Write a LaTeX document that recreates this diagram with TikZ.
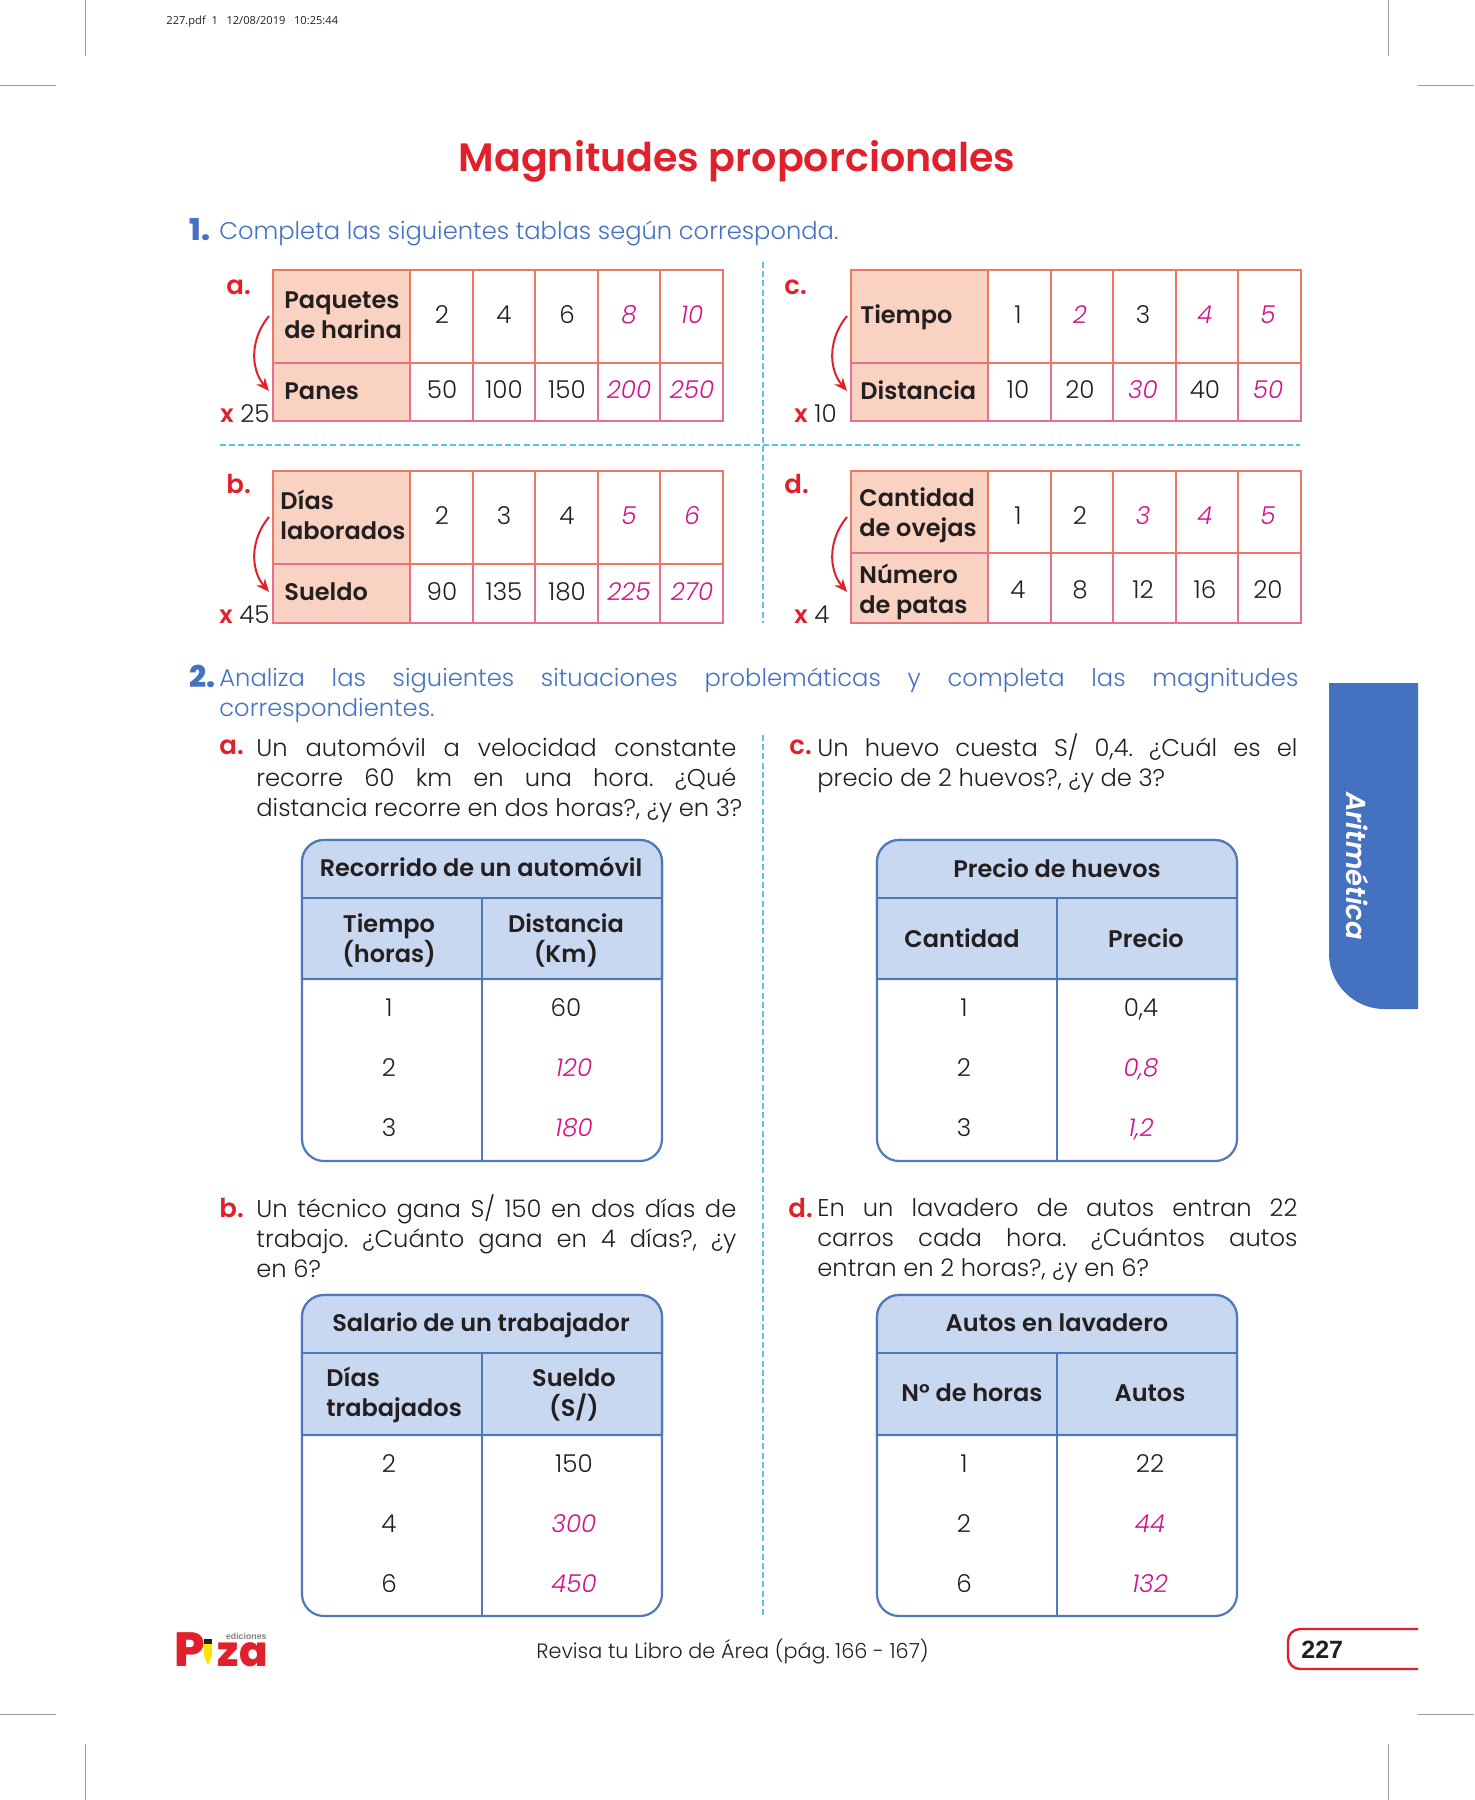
\documentclass[tikz,border=0pt]{standalone}
\usepackage{fontspec}
\setmainfont{Poppins Light}[BoldFont=Poppins SemiBold,ItalicFont=Poppins Light Italic]
\newfontfamily\recorte{Open Sans}
\newfontfamily\arial{Liberation Sans}
\newfontfamily\logof{Poppins ExtraBold}
\usetikzlibrary{arrows.meta}
\frenchspacing
\definecolor{rojo}{HTML}{E2202C}
\definecolor{azul}{HTML}{4472C0}
\definecolor{borde}{HTML}{4F79B9}
\definecolor{celeste}{HTML}{C9D8F1}
\definecolor{salmon}{HTML}{F9D2C2}
\definecolor{naranja}{HTML}{EC7860}
\definecolor{rosa}{HTML}{E7708A}
\definecolor{magenta}{HTML}{D4108A}
\definecolor{tinta}{HTML}{231F20}
\definecolor{corte}{HTML}{9A9A9A}
\definecolor{guia}{HTML}{5CC3E6}
\tikzset{
	val/.style={inner sep=0pt,text=tinta,text height=8.6pt,text depth=0pt,font=\fontsize{12.3}{15}\selectfont},
	res/.style={val,text=magenta,font=\fontsize{12.3}{15}\selectfont\itshape},
	head/.style={inner sep=0pt,text=tinta,align=center,font=\fontsize{12}{15}\selectfont\bfseries},
	headl/.style={head,align=left,anchor=west},
	body/.style={inner sep=0pt,anchor=north west,align=left,text=tinta,font=\fontsize{12.1}{15}\selectfont},
	letra/.style={inner sep=0pt,anchor=west,text=rojo,font=\fontsize{13}{15}\selectfont\bfseries},
	flecha/.style={rojo,line width=1pt,-{Stealth[length=6.5pt,width=5.5pt]}},
	guion/.style={guia,line width=0.7pt,dash pattern=on 3pt off 1.6pt},
	marca/.style={corte,line width=0.5pt}
}
% una linea justificada
\newcommand{\lin}[2]{\makebox[#1][s]{#2}}
% tabla chica: desplazamiento x, y arriba, y medio, y abajo
\newcommand{\grilla}[4]{
	\begin{scope}[shift={(#1,0)},line width=1.05pt]
		\draw[naranja,fill=salmon] (273,#2) rectangle (410,#3);
		\draw[rosa,fill=salmon] (273,#3) rectangle (410,#4);
		\foreach \xa/\xb in {410/473,473/535,535/598,598/660,660/723}{
			\draw[rosa] (\xa,#3) rectangle (\xb,#4);
			\draw[naranja] (\xa,#2) rectangle (\xb,#3);
		}
	\end{scope}
}
% tabla grande: x izq, x medio, x der, y arriba, y1, y2, y abajo
\newcommand{\tablon}[7]{
	\draw[borde,fill=white,line width=1.1pt,rounded corners=11pt] (#1,#4) rectangle (#3,#7);
	\draw[borde,fill=celeste,line width=1.1pt] (#1,#6) [rounded corners=11pt] -- (#1,#4) -- (#3,#4) [sharp corners] -- (#3,#6) -- cycle;
	\draw[borde,line width=1.1pt] (#1,#5) -- (#3,#5) (#2,#5) -- (#2,#7);
}
\begin{document}
\begin{tikzpicture}[x=0.5pt,y=-0.5pt]
	\useasboundingbox (0,0) rectangle (1474,1800);
	% marcas de corte
	\draw[marca] (85,0) -- (85,56) (0,85) -- (56,85);
	\draw[marca] (1388,0) -- (1388,56) (1418,85) -- (1474,85);
	\draw[marca] (0,1714) -- (56,1714) (85,1744) -- (85,1800);
	\draw[marca] (1418,1714) -- (1474,1714) (1388,1744) -- (1388,1800);
	\node[inner sep=0pt,anchor=west,text=tinta,font=\fontsize{5.55}{6}\recorte] (pdf) at (166,22) {227.pdf\ \ 1\ \ \ 12/08/2019\ \ \ 10:25:44};
	\node[inner sep=0pt,text=rojo,font=\fontsize{19.8}{22}\selectfont\bfseries] (titulo) at (737,161) {Magnitudes proporcionales};
	% pregunta 1
	\node[inner sep=0pt,anchor=west,text=azul,font=\fontsize{15}{15}\logof] (uno) at (189,230) {1.};
	\node[inner sep=0pt,anchor=west,text=azul,font=\fontsize{12.1}{15}\selectfont] (enun1) at (219,233) {Completa las siguientes tablas según corresponda.};
	\draw[guion] (763,262) -- (763,623);
	\draw[guion] (220,445) -- (1300,445);
	% tablas chicas
	\grilla{0}{270}{363}{421}
	\grilla{0}{471}{564}{623}
	\grilla{578}{270}{363}{421}
	\grilla{578}{471}{553}{623}
	\node[letra] (la) at (226,287) {a.};
	\node[letra] (lb) at (226,484) {b.};
	\node[letra] (lc) at (784,287) {c.};
	\node[letra] (ld) at (784,484) {d.};
	\node[headl] (paq) at (284,315) {Paquetes\\de harina};
	\node[headl] (pan) at (284,391) {Panes};
	\node[headl] (dias) at (280,515) {Días\\laborados};
	\node[headl] (sue) at (284,592) {Sueldo};
	\node[headl] (tie) at (860,317) {Tiempo};
	\node[headl] (dis) at (860,390) {Distancia};
	\node[headl] (can) at (859,515) {Cantidad\\de ovejas};
	\node[headl] (num) at (859,592) {Número\\de patas};
	\foreach \x/\v/\s in {442/2/val,504/4/val,567/6/val,629/8/res,692/10/res}
		\node[\s] (a1\x) at (\x,315) {\v};
	\foreach \x/\v/\s in {442/50/val,504/100/val,567/150/val,629/200/res,692/250/res}
		\node[\s] (a2\x) at (\x,390) {\v};
	\foreach \x/\v/\s in {442/2/val,504/3/val,567/4/val,629/5/res,692/6/res}
		\node[\s] (b1\x) at (\x,516) {\v};
	\foreach \x/\v/\s in {442/90/val,504/135/val,567/180/val,629/225/res,692/270/res}
		\node[\s] (b2\x) at (\x,592) {\v};
	\foreach \x/\v/\s in {1018/1/val,1080/2/res,1143/3/val,1205/4/res,1268/5/res}
		\node[\s] (c1\x) at (\x,315) {\v};
	\foreach \x/\v/\s in {1018/10/val,1080/20/val,1143/30/res,1205/40/val,1268/50/res}
		\node[\s] (c2\x) at (\x,390) {\v};
	\foreach \x/\v/\s in {1018/1/val,1080/2/val,1143/3/res,1205/4/res,1268/5/res}
		\node[\s] (d1\x) at (\x,516) {\v};
	\foreach \x/\v/\s in {1018/4/val,1080/8/val,1143/12/val,1205/16/val,1268/20/val}
		\node[\s] (d2\x) at (\x,590) {\v};
	% flechas
	\coordinate (fa1) at (269,316); \coordinate (fa2) at (269,391);
	\coordinate (fb1) at (269,517); \coordinate (fb2) at (269,592);
	\coordinate (fc1) at (847,316); \coordinate (fc2) at (847,391);
	\coordinate (fd1) at (847,517); \coordinate (fd2) at (847,592);
	\foreach \f in {a,b,c,d}
		\draw[flecha] (f\f1) to[bend right=40] (f\f2);
	\node[val,anchor=east] (xa) at (270,414) {\textcolor{rojo}{\bfseries x} 25};
	\node[val,anchor=east] (xb) at (270,615) {\textcolor{rojo}{\bfseries x} 45};
	\node[val,anchor=west] (xc) at (794,414) {\textcolor{rojo}{\bfseries x} 10};
	\node[val,anchor=west] (xd) at (794,615) {\textcolor{rojo}{\bfseries x} 4};
	% pregunta 2
	\node[inner sep=0pt,anchor=west,text=azul,font=\fontsize{15}{15}\logof] (dos) at (189,676) {2.};
	\node[inner sep=0pt,anchor=north west,align=left,text=azul,font=\fontsize{12.1}{15}\selectfont] (enun2) at (219,667) {\lin{539.5pt}{Analiza las siguientes situaciones problemáticas y completa las magnitudes}\\correspondientes.};
	\draw[guion] (763,735) -- (763,1616);
	\node[letra] (qa) at (219,747) {a.};
	\node[body] (ta) at (256,737) {\lin{240pt}{Un automóvil a velocidad constante}\\\lin{240pt}{recorre 60 km en una hora. ¿Qué}\\\lin{243pt}{distancia recorre en dos horas?, ¿y en 3?}};
	\node[letra] (qc) at (789,747) {c.};
	\node[body] (tc) at (817,733) {\lin{240pt}{Un huevo cuesta S/ 0,4. ¿Cuál es el}\\precio de 2 huevos?, ¿y de 3?};
	\node[letra] (qb) at (219,1208) {b.};
	\node[body] (tb) at (256,1194) {\lin{240pt}{Un técnico gana S/ 150 en dos días de}\\\lin{240pt}{trabajo. ¿Cuánto gana en 4 días?, ¿y}\\en 6?};
	\node[letra] (qd) at (788,1208) {d.};
	\node[body] (td) at (817,1198) {\lin{240pt}{En un lavadero de autos entran 22}\\\lin{240pt}{carros cada hora. ¿Cuántos autos}\\entran en 2 horas?, ¿y en 6?};
	% tablas grandes
	\tablon{302}{482}{662}{840}{898}{979}{1161}
	\tablon{877}{1057}{1237}{840}{898}{979}{1161}
	\tablon{302}{482}{662}{1295}{1353}{1435}{1616}
	\tablon{877}{1057}{1237}{1295}{1353}{1435}{1616}
	\node[head] (ha) at (481,867) {Recorrido de un automóvil};
	\node[head] (ha1) at (389,940) {Tiempo\\(horas)};
	\node[head] (ha2) at (566,940) {Distancia\\(Km)};
	\node[head] (hc) at (1057,868) {Precio de huevos};
	\node[head] (hc1) at (962,938) {Cantidad};
	\node[head] (hc2) at (1146,938) {Precio};
	\node[head] (hb) at (481,1325) {Salario de un trabajador};
	\node[headl] (hb1) at (326,1395) {Días\\trabajados};
	\node[head] (hb2) at (574,1395) {Sueldo\\(S/)};
	\node[head] (hd) at (1057,1323) {Autos en lavadero};
	\node[head] (hd1) at (972,1393) {N° de horas};
	\node[head] (hd2) at (1150,1393) {Autos};
	\foreach \y/\i/\v/\w/\s in {1008/1/60/566/val,1068/2/120/574/res,1128/3/180/574/res}{
		\node[val] (ra\i) at (389,\y) {\i};
		\node[\s] (sa\i) at (\w,\y) {\v};
	}
	\foreach \y/\i/\v/\s in {1008/1/{0,4}/val,1068/2/{0,8}/res,1128/3/{1,2}/res}{
		\node[val] (rc\i) at (964,\y) {\i};
		\node[\s] (sc\i) at (1141,\y) {\v};
	}
	\foreach \y/\i/\v/\s in {1464/2/150/val,1524/4/300/res,1584/6/450/res}{
		\node[val] (rb\i) at (389,\y) {\i};
		\node[\s] (sb\i) at (574,\y) {\v};
	}
	\foreach \y/\i/\v/\s in {1464/1/22/val,1524/2/44/res,1584/6/132/res}{
		\node[val] (rd\i) at (964,\y) {\i};
		\node[\s] (sd\i) at (1150,\y) {\v};
	}
	% pestana lateral
	\fill[azul] (1329,683) -- (1418,683) -- (1418,1009) -- (1384,1009) .. controls (1354,1009) and (1329,984) .. (1329,954) -- cycle;
	\node[inner sep=0pt,rotate=-90,text=white,font=\fontsize{13.7}{15}\selectfont\bfseries\itshape] (lado) at (1357,866) {Aritmética};
	% pie
	\node[inner sep=0pt,text=rojo,anchor=base west,text height=17pt,text depth=0pt,font=\fontsize{24}{24}\logof] (logoP) at (174,1666) {P};
	\node[inner sep=0pt,text=rojo,anchor=base east,text height=11pt,text depth=0pt,font=\fontsize{21}{21}\logof] (logoZ) at (268,1666) {za};
	\node[inner sep=0pt,anchor=base east,text height=3.3pt,text depth=0pt,text=gray,font=\fontsize{4.4}{5}\arial\bfseries] (logoE) at (267,1639) {ediciones};
	\fill[yellow!85!orange] (204,1644) -- (212,1644) -- (212,1656) -- (208,1665) -- (204,1656) -- cycle;
	\fill[tinta] (204,1639) rectangle (212,1644);
	\node[inner sep=0pt,anchor=west,text=tinta,font=\fontsize{10.4}{12}\selectfont] (revisa) at (536,1652) {Revisa tu Libro de Área (pág. 166 - 167)};
	\draw[rojo,line width=1.2pt,rounded corners=6pt] (1418,1629) -- (1288,1629) -- (1288,1669) -- (1418,1669);
	\node[inner sep=0pt,anchor=west,text=tinta,font=\fontsize{12.5}{15}\arial\bfseries] (pagina) at (1301,1650) {227};
\end{tikzpicture}
\end{document}
